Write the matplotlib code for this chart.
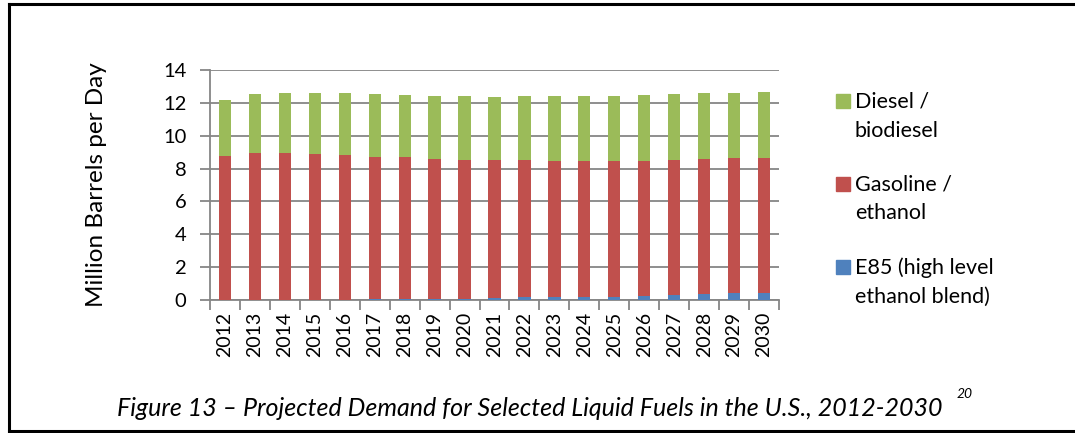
import numpy as np
import matplotlib.pyplot as plt
from matplotlib.lines import Line2D
from matplotlib.patches import Rectangle

plt.rcParams['font.family'] = ['Lato', 'DejaVu Sans']

years = [str(y) for y in range(2012, 2031)]
# stacked tops (million barrels per day)
e85 = [0.01, 0.01, 0.01, 0.02, 0.02, 0.03, 0.04, 0.05, 0.06, 0.12,
       0.16, 0.16, 0.20, 0.20, 0.24, 0.30, 0.39, 0.41, 0.45]
gas_top = [8.78, 8.97, 8.95, 8.90, 8.80, 8.72, 8.68, 8.60, 8.54, 8.52,
           8.52, 8.48, 8.48, 8.48, 8.48, 8.54, 8.60, 8.62, 8.66]
total = [12.17, 12.51, 12.62, 12.62, 12.62, 12.54, 12.47, 12.43, 12.39, 12.37,
         12.39, 12.39, 12.39, 12.43, 12.45, 12.51, 12.60, 12.62, 12.68]
legend_labels = [['Diesel /', 'biodiesel'], ['Gasoline /', 'ethanol'],
                 ['E85 (high level', 'ethanol blend)']]

e85 = np.array(e85)
gasoline = np.array(gas_top) - e85
diesel = np.array(total) - np.array(gas_top)

c_blue = '#4f81bd'
c_red = '#c0504d'
c_green = '#9bbb59'
grey = '#868686'

W, H = 1075, 433
fig = plt.figure(figsize=(W / 100, H / 100), dpi=100)
ax = fig.add_axes([0.1953, 0.3072, 0.5294, 0.5311])

x = np.arange(len(years))
w = 0.41
ax.bar(x, e85, w, color=c_blue, zorder=3)
ax.bar(x, gasoline, w, bottom=e85, color=c_red, zorder=3)
ax.bar(x, diesel, w, bottom=e85 + gasoline, color=c_green, zorder=3)

ax.set_xlim(-0.5, len(years) - 0.5)
ax.set_ylim(0, 14)
ax.set_yticks(range(0, 15, 2))
ax.yaxis.grid(True, color=grey, linewidth=1.3, zorder=0)
ax.set_axisbelow(True)

for s in ['top', 'right']:
    ax.spines[s].set_visible(False)
for s in ['left', 'bottom']:
    ax.spines[s].set_color(grey)
    ax.spines[s].set_linewidth(1.3)

ax.set_xticks(x)
ax.set_xticklabels(years, rotation=90, fontsize=14)
ax.tick_params(axis='x', length=0, pad=8.5)
ax.set_xticks(np.arange(-0.5, len(years), 1), minor=True)
ax.tick_params(axis='x', which='minor', length=7, color=grey, width=1.3)
ax.tick_params(axis='y', length=7, color=grey, width=1.3, labelsize=14.5, pad=10)

ax.set_ylabel('Million Barrels per Day', fontsize=17.5, labelpad=40)

# legend drawn by hand so the swatch sits on the first line, like Excel does
for (l1, l2), col, base in zip(legend_labels, [c_green, c_red, c_blue], [108, 190.7, 274]):
    fig.add_artist(Rectangle((836 / W, 1 - base / H), 14 / W, 14 / H,
                             color=col, transform=fig.transFigure))
    fig.text(855 / W, 1 - base / H, l1, fontsize=15.5, va='baseline')
    fig.text(855 / W, 1 - (base + 28.6) / H, l2, fontsize=15.5, va='baseline')

fig.text(0.109, 0.039, 'Figure 13 \u2013 Projected Demand for Selected Liquid Fuels in the U.S., 2012-2030',
         ha='left', va='baseline', fontsize=18, style='italic')
fig.text(0.890, 0.081, '20', fontsize=10, style='italic', va='baseline')

# page border
lx, ty, by = 8.5 / W, 1 - 3.5 / H, 1 - 431 / H
fig.add_artist(Line2D([lx, lx], [by, ty], color='black', lw=2.2, transform=fig.transFigure))
fig.add_artist(Line2D([lx, 1], [ty, ty], color='black', lw=2.2, transform=fig.transFigure))
fig.add_artist(Line2D([lx, 1], [by, by], color='black', lw=2.2, transform=fig.transFigure))

fig.savefig('out.png', dpi=100)
